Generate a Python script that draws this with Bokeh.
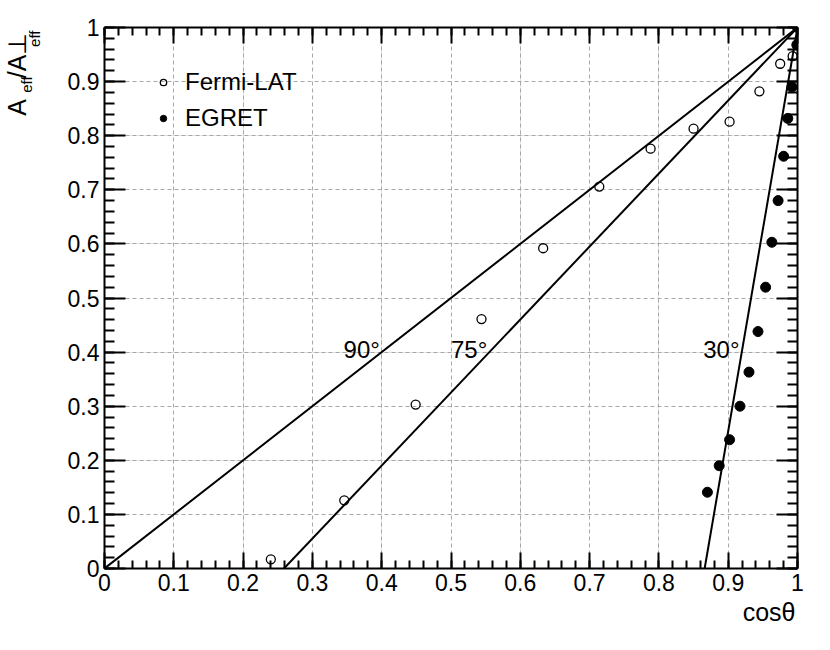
from bokeh.plotting import figure
from bokeh.models import (Range1d, LinearAxis, SingleIntervalTicker, Label, Title,
                          Legend, LegendItem, Grid, CustomJSTickFormatter)
from bokeh.embed import file_html
from bokeh.resources import INLINE

# ---- data ----
fermi_x = [0.240, 0.346, 0.449, 0.544, 0.633, 0.714, 0.788, 0.850, 0.902, 0.945, 0.975, 0.993]
fermi_y = [0.017, 0.126, 0.303, 0.461, 0.592, 0.706, 0.776, 0.813, 0.826, 0.882, 0.933, 0.947]

egret_x = [0.870, 0.887, 0.902, 0.917, 0.930, 0.943, 0.954, 0.963, 0.972, 0.980, 0.986, 0.992, 0.999, 1.000]
egret_y = [0.141, 0.190, 0.238, 0.300, 0.363, 0.438, 0.520, 0.603, 0.680, 0.762, 0.832, 0.890, 0.968, 1.000]

# reference lines: A_eff/A_perp vs cos(theta), zero at cos(theta_max)
line_labels = ["90°", "75°", "30°"]
line_x0 = [0.0, 0.259, 0.866]
line_y0 = [0.0, 0.0, 0.0]
line_x1 = [1.0, 1.0, 1.0]
line_y1 = [1.0, 1.0, 1.0]

tick_interval = 0.1
FONT = "Liberation Sans"
NB = "\u00a0"
TH = "\u2009"

p = figure(width=814, height=634, x_range=Range1d(0, 1), y_range=Range1d(0, 1),
           output_backend="svg", toolbar_location=None,
           x_axis_location=None, y_axis_location=None,
           min_border_left=104, min_border_right=17, min_border_top=27, min_border_bottom=66)
p.outline_line_color = None
p.background_fill_color = "white"
p.border_fill_color = "white"

for dim in (0, 1):
    g = Grid(dimension=dim, ticker=SingleIntervalTicker(interval=tick_interval, num_minor_ticks=5),
             grid_line_color="#a8a8a8", grid_line_dash="4 3", grid_line_width=1)
    p.add_layout(g, "center")


def mk_axis(dim, labels):
    ax = LinearAxis(ticker=SingleIntervalTicker(interval=tick_interval, num_minor_ticks=5))
    ax.axis_line_width = 2
    ax.axis_line_color = "black"
    ax.major_tick_line_width = 2
    ax.minor_tick_line_width = 2
    ax.major_tick_out = 0
    ax.minor_tick_out = 0
    ax.major_tick_in = 16 if dim == 0 else 21
    ax.minor_tick_in = 8 if dim == 0 else 10
    if labels:
        ax.major_label_text_font = FONT
        ax.major_label_text_font_size = "23px"
        ax.major_label_text_color = "black"
        ax.major_label_standoff = 5
        ax.major_label_overrides = {0: "0", 1: "1"}
    else:
        ax.formatter = CustomJSTickFormatter(code="return ''")
        ax.major_label_standoff = 0
    return ax

p.add_layout(mk_axis(0, True), "below")
p.add_layout(mk_axis(1, True), "left")
p.add_layout(mk_axis(0, False), "above")
p.add_layout(mk_axis(1, False), "right")

# invisible spacer between the y axis and the stacked y-title pieces
spacer = LinearAxis(ticker=SingleIntervalTicker(interval=0.5),
                    formatter=CustomJSTickFormatter(code="return ''"),
                    axis_line_color=None, major_tick_line_color=None, minor_tick_line_color=None,
                    major_tick_in=0, major_tick_out=24, minor_tick_in=0, minor_tick_out=0,
                    major_label_standoff=0)
p.add_layout(spacer, "left")

p.segment(x0=line_x0, y0=line_y0, x1=line_x1, y1=line_y1, line_color="black", line_width=2)

r_fermi = p.scatter(fermi_x, fermi_y, marker="circle", size=9, fill_alpha=0,
                    line_color="black", line_width=1.3)
r_egret = p.scatter(egret_x, egret_y, marker="circle", size=10, fill_color="black",
                    line_color="black", line_width=1)

legend = Legend(items=[LegendItem(label="Fermi-LAT", renderers=[r_fermi]),
                       LegendItem(label="EGRET", renderers=[r_egret])],
                location=(51, 432), padding=0, margin=0, spacing=0,
                glyph_width=16, glyph_height=36, label_height=36, label_standoff=14,
                label_text_font=FONT, label_text_font_size="24px", label_text_color="black",
                border_line_color=None, background_fill_alpha=0)
p.add_layout(legend)

# angle labels
angle_pos_x = [0.345, 0.500, 0.864]
for lab, xx in zip(line_labels, angle_pos_x):
    p.add_layout(Label(x=xx, y=0.405, text=lab, text_font=FONT, text_font_size="24px",
                       text_color="black", text_align="left", text_baseline="middle"))

# x axis title
p.add_layout(Title(text="cosθ", align="right", offset=2, text_font=FONT, text_font_size="25px",
                   text_font_style="normal", text_color="black", standoff=4), "below")

# y axis title  A_eff / A^perp_eff, built from stacked side titles
def ytitle(text, size, standoff):
    return Title(text=text, align="right", text_font=FONT, text_font_size=size,
                 text_font_style="normal", text_color="black", standoff=standoff)

p.add_layout(ytitle("eff" + TH, "15px", -4), "left")                # lower 'eff' (under perp)
p.add_layout(ytitle("eff" + NB * 11 + TH, "15px", -18), "left")     # 'eff' under first A
p.add_layout(ytitle("A" + NB * 3 + "/A⊥" + TH, "25px", -13), "left")

open("out.html", "w").write(file_html(p, INLINE))
